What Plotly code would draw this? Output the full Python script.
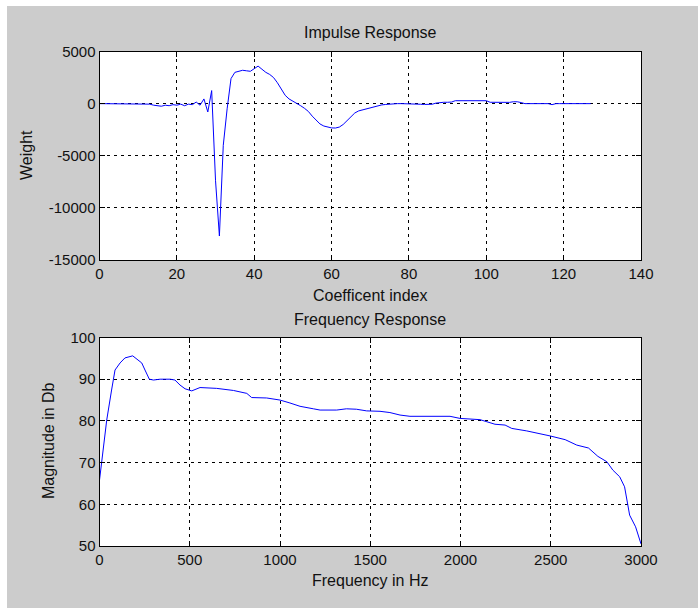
import plotly.graph_objects as go

# ---------------- data ----------------
coef_index = list(range(0, 128))
impulse_weight = [
    0, 0, 0, 0, 0, 0, 0, 0, 0, 0,                       # 0-9
    0, 0, 0, -50, -150, -200, -250, -150, -200, -100,   # 10-19
    -150, -50, -200, -50, -100, 150, -150, 450, -800, 1250,  # 20-29
    -7400, -12700, -4000, -500, 2400, 3000, 3100, 3200, 3150, 3100,  # 30-39
    3350, 3600, 3300, 3000, 2800, 2500, 2000, 1400, 800, 450,  # 40-49
    250, 0, -200, -450, -750, -1200, -1600, -1950, -2150, -2250,  # 50-59
    -2330, -2340, -2250, -2000, -1600, -1200, -900, -700, -600, -500,  # 60-69
    -380, -280, -200, -120, -80, -30, 0, 0, 0, 0,       # 70-79
    0, 0, -20, -60, -80, -80, -60, 50, 120, 130,        # 80-89
    130, 150, 280, 280, 290, 290, 290, 290, 290, 280,   # 90-99
    280, 130, 120, 120, 120, 120, 120, 180, 180, 100,   # 100-109
    0, 0, 0, 0, 0, 0, 0, -100, 0, 0,                    # 110-119
    0, 0, 0, 0, 0, 0, 0, 0                              # 120-127
]

freq_hz = [0, 12, 40, 67, 86, 114, 141, 184, 206, 234, 252, 276, 299, 336, 391,
           418, 446, 474, 511, 557, 649, 742, 816, 843, 926, 1000, 1055, 1111,
           1185, 1222, 1314, 1368, 1423, 1480, 1554, 1609, 1665, 1720, 1942,
           1997, 2108, 2191, 2247, 2284, 2367, 2441, 2496, 2580, 2644, 2709,
           2761, 2811, 2844, 2882, 2909, 2937, 2970, 3000]
magnitude_db = [65.8, 70.6, 80.2, 87.4, 92.2, 93.9, 95.1, 95.6, 94.8, 93.9, 92.2,
                90.0, 89.8, 90.0, 90.0, 89.8, 88.6, 87.7, 87.2, 88.0, 87.8, 87.3,
                86.6, 85.6, 85.5, 85.0, 84.3, 83.5, 82.9, 82.6, 82.6, 82.9, 82.8,
                82.4, 82.3, 82.0, 81.4, 81.1, 81.1, 80.6, 80.3, 79.2, 79.0, 78.2,
                77.6, 77.0, 76.4, 75.5, 74.2, 73.5, 71.5, 70.2, 68.2, 66.6, 64.2,
                57.4, 54.6, 50.5]

top_xticks = [0, 20, 40, 60, 80, 100, 120, 140]
top_yticks = [-15000, -10000, -5000, 0, 5000]
top_yticklabels = ["-15000", "-10000", "-5000", "0", "5000"]
bot_xticks = [0, 500, 1000, 1500, 2000, 2500, 3000]
bot_yticks = [50, 60, 70, 80, 90, 100]

# ---------------- layout helpers ----------------
W, H = 698, 608
def px_x(p):
    return p / W
def px_y(p):
    return 1 - p / H

FONT = "Liberation Sans, Arial, sans-serif"
GRAY = "#cccccc"

fig = go.Figure()
fig.add_trace(go.Scatter(x=coef_index, y=impulse_weight, mode="lines",
                         line=dict(color="#0000ff", width=1),
                         xaxis="x", yaxis="y", showlegend=False))
fig.add_trace(go.Scatter(x=freq_hz, y=magnitude_db, mode="lines",
                         line=dict(color="#0000ff", width=1),
                         xaxis="x2", yaxis="y2", showlegend=False))

common = dict(showline=True, linecolor="black", linewidth=1, mirror="ticks",
              ticks="inside", ticklen=5, tickcolor="black", tickwidth=1,
              showgrid=True, gridcolor="black", gridwidth=1, griddash="3px,4px",
              zeroline=False, tickfont=dict(family=FONT, size=15, color="#111"),
              automargin=False, fixedrange=True)

xdom = [px_x(99.5), px_x(641)]
fig.update_layout(
    width=W, height=H, autosize=False,
    margin=dict(l=0, r=0, t=0, b=0, pad=0),
    paper_bgcolor=GRAY, plot_bgcolor="white",
    showlegend=False,
    xaxis=dict(domain=xdom, range=[0, 140], tickvals=top_xticks, anchor="y", **common),
    yaxis=dict(domain=[px_y(260), px_y(51.5)], range=[-15000, 5000],
               tickvals=top_yticks, ticktext=top_yticklabels, anchor="x", **common),
    xaxis2=dict(domain=xdom, range=[0, 3000], tickvals=bot_xticks, anchor="y2", **common),
    yaxis2=dict(domain=[px_y(546), px_y(337.5)], range=[50, 100],
                tickvals=bot_yticks, anchor="x2", **common),
)

tf = dict(family=FONT, size=16, color="#111")
cx = px_x((99.5 + 641) / 2)
annots = [
    dict(text="Impulse Response", x=cx, y=px_y(33)),
    dict(text="Coefficent index", x=cx, y=px_y(295)),
    dict(text="Frequency Response", x=cx, y=px_y(319)),
    dict(text="Frequency in Hz", x=cx, y=px_y(580)),
    dict(text="Weight", x=px_x(27), y=px_y(155), textangle=-90),
    dict(text="Magnitude in Db", x=px_x(48), y=px_y(441), textangle=-90),
]
for a in annots:
    fig.add_annotation(xref="paper", yref="paper", showarrow=False,
                       xanchor="center", yanchor="middle", font=tf, **a)

# white strips at top and left (screenshot border)
fig.add_shape(type="rect", xref="paper", yref="paper", x0=0, x1=px_x(7), y0=0, y1=1,
              fillcolor="white", line=dict(width=0), layer="above")
fig.add_shape(type="rect", xref="paper", yref="paper", x0=0, x1=1, y0=px_y(6), y1=1,
              fillcolor="white", line=dict(width=0), layer="above")

fig.write_html(
    "out.html",
    config=dict(displayModeBar=False, responsive=False),
    post_script="document.documentElement.style.margin='0';"
                "document.body.style.margin='0';document.body.style.padding='0';"
                "document.body.style.overflow='hidden';",
)
